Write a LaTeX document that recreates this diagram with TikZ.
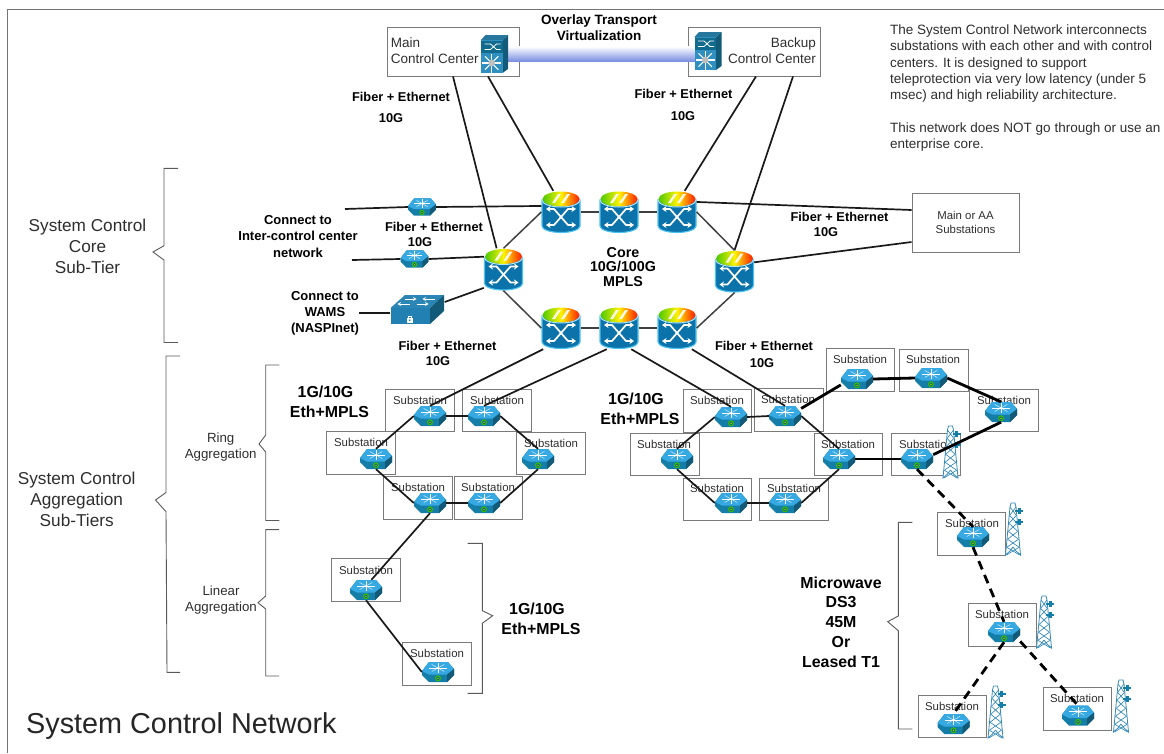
\documentclass[tikz,border=0pt]{standalone}
\usepackage{fontspec}
\setmainfont{Liberation Sans}
\usetikzlibrary{positioning, arrows.meta, calc}
\definecolor{NetBlue}{HTML}{0B72AA}
\definecolor{NetCyan}{HTML}{36A8E2}
\definecolor{NetGlow}{HTML}{4CC2F0}
\definecolor{NetDark}{HTML}{147EA8}
\definecolor{NetSide}{HTML}{125A78}
\definecolor{TowerBlue}{HTML}{3389B8}
\definecolor{BandBlue}{HTML}{7C90E2}
\definecolor{TextGrey}{HTML}{2E2E2E}
\definecolor{BoxGrey}{HTML}{7A7A7A}
\tikzset{
	routernode/.style={shape=rectangle, minimum width=32pt, minimum height=20pt, inner sep=0pt},
	corenode/.style={shape=rectangle, minimum width=39pt, minimum height=42pt, inner sep=0pt},
	nexusnode/.style={shape=rectangle, minimum width=27pt, minimum height=38pt, inner sep=0pt},
	wamsnode/.style={shape=rectangle, minimum width=54pt, minimum height=30pt, inner sep=0pt},
	towernode/.style={shape=rectangle, minimum width=15pt, minimum height=52pt, inner sep=0pt},
	subbox/.style={shape=rectangle, draw=BoxGrey, line width=0.9pt, minimum width=68.5pt, minimum height=42.5pt, inner sep=0pt},
	subtext/.style={text=TextGrey, inner sep=0pt, font=\fontsize{11.4}{13}\selectfont},
	plainbox/.style={shape=rectangle, draw=BoxGrey, line width=0.9pt, inner sep=0pt},
	boldtext/.style={text=black, inner sep=0pt, align=center, font=\bfseries\fontsize{12.8}{15}\selectfont},
	speedtext/.style={text=black, inner sep=0pt, align=center, font=\bfseries\fontsize{15.9}{19.7}\selectfont},
	tiertext/.style={text=TextGrey, inner sep=0pt, align=center, font=\fontsize{17.2}{21}\selectfont},
	aggtext/.style={text=TextGrey, inner sep=0pt, align=center, font=\fontsize{13.3}{16}\selectfont},
	centertext/.style={text=TextGrey, inner sep=0pt, font=\fontsize{13.5}{16}\selectfont},
	netlink/.style={draw=black!90, line width=1.7pt},
	corelink/.style={draw=black!75, line width=1.5pt},
	heavylink/.style={draw=black, line width=2.8pt},
	radiolink/.style={draw=black, line width=2.8pt, dash pattern=on 9pt off 6pt},
	bracket/.style={draw=black!65, line width=0.9pt},
	pics/routericon/.style={code={
		\fill[NetDark] (-16,-1) -- (-9,-10) -- (10,-10) -- (16,-3) -- (16,3) -- (9,10) -- (-9,10) -- (-16,3) -- cycle;
		\fill[NetCyan] (-16,-1) -- (-9,-10) -- (10,-10) -- (16,-3) -- (9,2.5) -- (-9,2.5) -- (-16,-1) -- cycle;
		\fill[NetSide] (9,2.5) -- (16,-3) -- (16,3) -- (9,10) -- cycle;
		\foreach \ang in {0,45,...,315}
			\draw[white, line width=0.4pt] (0,-4) -- +(\ang:9 and 5);
		\fill[white] (0,-4) circle[radius=1pt];
		\draw[green!70!black!80!yellow, fill=NetSide, line width=1.1pt] (0,6.3) circle[radius=2.4pt];
		\fill[yellow!75!green] (0,6.3) circle[radius=0.8pt];
	}},
	pics/coreicon/.style={code={
		\path[fill=NetBlue, draw=NetGlow, line width=1.1pt] (-19,-12) -- (-19,14) arc[start angle=180, end angle=360, x radius=19pt, y radius=6.5pt] -- (19,-12) -- cycle;
		\shade[left color=green!70!black!70!yellow, right color=red!80!orange, middle color=yellow!90!orange] (0,-13) ellipse[x radius=18.5pt, y radius=7.5pt];
		\fill[white, opacity=0.9] (-9,-9) -- (-3,-18) -- (0,-18) -- (-6,-9) -- cycle;
		\fill[white, opacity=0.9] (0,-9) -- (6,-18) -- (9,-18) -- (3,-9) -- cycle;
		\draw[NetGlow!45!white, line width=1pt] (-19,-12) arc[start angle=180, end angle=360, x radius=19pt, y radius=7pt];
		\draw[white, line width=1.7pt, {Stealth[length=4.5pt, width=6pt]}-{Stealth[length=4.5pt, width=6pt]}] (-15,-3) -- (-7,-3) -- (7,13) -- (15,13);
		\draw[white, line width=1.7pt, {Stealth[length=4.5pt, width=6pt]}-{Stealth[length=4.5pt, width=6pt]}] (-15,13) -- (-7,13) -- (7,-3) -- (15,-3);
	}},
	pics/nexusicon/.style={code={
		\fill[NetSide] (8,-14) -- (13.5,-19) -- (13.5,15) -- (8,19) -- cycle;
		\fill[NetCyan!70!black] (-13.5,-14) -- (-9,-19) -- (13.5,-19) -- (8,-14) -- cycle;
		\fill[NetCyan!85!black] (-13.5,-14) rectangle (8,19);
		\fill[NetDark!85!black] (-13.5,-13) rectangle (8,-1);
		\draw[white, line width=0.8pt] (-10,-10) -- (-4,-10) -- (2,-4.5) -- (6,-4.5) (-10,-4.5) -- (-4,-4.5) -- (2,-10) -- (6,-10);
		\foreach \ang in {0,45,...,315}
			\draw[white, line width=1.1pt] (-2.8,9) -- +(\ang:9.5);
		\fill[black!25] (-2.8,9) circle[radius=3.3pt];
	}},
	pics/wamsicon/.style={code={
		\fill[NetCyan!80!black] (-27,-1.5) -- (-12.5,-14.5) -- (26.5,-14.5) -- (12.5,-1.5) -- cycle;
		\fill[NetBlue!90!white] (-27,-1.5) rectangle (12.5,14.5);
		\fill[NetSide] (12.5,-1.5) -- (26.5,-14.5) -- (26.5,1.5) -- (12.5,14.5) -- cycle;
		\draw[white, line width=1pt, -{Stealth[length=3.5pt, width=4pt]}] (-13,-10.5) -- (-1,-10.5);
		\draw[white, line width=1pt, -{Stealth[length=3.5pt, width=4pt]}] (17,-10.5) -- (5,-10.5);
		\draw[white, line width=1pt, -{Stealth[length=3.5pt, width=4pt]}] (-8,-5.5) -- (-20,-5.5);
		\draw[white, line width=1pt, -{Stealth[length=3.5pt, width=4pt]}] (-1,-5.5) -- (11,-5.5);
		\fill[white] (-10.5,8.5) rectangle (-5,13);
		\draw[white, line width=0.7pt] (-9.5,8.5) -- (-9.5,6.5) -- (-6,6.5) -- (-6,8.5);
		\fill[NetBlue] (-7.75,10.7) circle[radius=0.9pt];
	}},
	pics/towericon/.style={code={
		\path[fill=white] (-3,-26) -- (3,-26) -- (7.5,26) -- (-7.5,26) -- cycle;
		\draw[TowerBlue, line width=0.8pt] (-2,-26) -- (2,-26) -- (3,-22) -- (7.5,26) -- (3,22) -- (0,18);
		\draw[TowerBlue, line width=0.8pt] (-2,-26) -- (-3,-22) -- (-7.5,26) -- (-3,22) -- (0,18);
		\foreach \yy/\ww in {-22/3,-14/3.7,-6/4.4,2/5.1,10/5.8,18/6.5}
			\draw[TowerBlue, line width=0.65pt] (-\ww,\yy) -- (\ww,\yy+8) (\ww,\yy) -- (-\ww,\yy+8);
		\foreach \yy in {-18,-7} {
			\draw[NetDark, line width=1.2pt] (2,\yy) -- (10,\yy);
			\fill[NetDark] (4.5,\yy-3) -- (7.5,\yy-3) -- (7.5,\yy+3) -- (4.5,\yy+3) -- cycle;
		}
	}},
}
\begin{document}
\begin{tikzpicture}[x=1pt, y=-1pt]
	\useasboundingbox (0,0) rectangle (1164,753);
	\draw[draw=black!55, line width=0.9pt] (7.3,753) -- (7.3,9.3) -- (1164,9.3);

	\node at (453,51.5) [plainbox, minimum width=132pt, minimum height=49pt] (mainCenter) {};
	\node at (754,51.5) [plainbox, minimum width=132pt, minimum height=49pt] (backupCenter) {};
	\node at (494.5,54) [nexusnode] (nexusMain) {};
	\node at (708,51) [nexusnode] (nexusBackup) {};
	\shade[top color=white, bottom color=BandBlue] ([yshift=7.5pt]nexusMain.center) rectangle ([yshift=-10pt]nexusBackup.center);
	\pic at (nexusMain) {nexusicon};
	\pic at (nexusBackup) {nexusicon};
	\node at (390.7,51) [centertext, anchor=west, align=left] (mainText) {Main\\Control Center};
	\node at (816,51) [centertext, anchor=east, align=right] (backupText) {Backup\\Control Center};
	\node at (599,28) [boldtext, font=\bfseries\fontsize{13.5}{16}\selectfont] (overlayText) {Overlay Transport\\Virtualization};

	\node at (890,24.5) [anchor=north west, text=TextGrey, inner sep=0pt, align=left, font=\fontsize{13.5}{16.3}\selectfont] (noteText) {The System Control Network interconnects\\substations with each other and with control\\centers. It is designed to support\\teleprotection via very low latency (under 5\\msec) and high reliability architecture.\\[16.3pt]This network does NOT go through or use an\\enterprise core.};

	\foreach \nm/\xx/\yy in {coreA/561/212, coreB/619/212, coreC/677/212, coreL/503.5/269.5, coreR/734.5/271.5, coreD/561/328, coreE/619/328, coreF/677/328} {
		\node at (\xx,\yy) [corenode] (\nm) {};
		\pic at (\nm) {coreicon};
	}
	\node at (965.5,222.5) [plainbox, minimum width=107pt, minimum height=59pt] (mainAA) {};
	\node at (mainAA) [subtext, align=center, font=\fontsize{11.4}{14}\selectfont] (mainAAText) {Main or AA\\Substations};
	\foreach \nm/\xx/\yy in {interA/422/207, interB/414.5/259} {
		\node at (\xx,\yy) [routernode, minimum width=28pt, minimum height=18pt] (\nm) {};
		\pic at (\nm) [scale=0.87] {routericon};
	}
	\node at (417.5,309.5) [wamsnode] (wamsSwitch) {};
	\pic at (wamsSwitch) {wamsicon};
	\coordinate (stubA) at (345,209);
	\coordinate (stubB) at (352,260);
	\coordinate (stubC) at (359,313);

	\foreach \nm/\bx/\by/\tx/\ty/\rx/\ry in {
		la/420/410.5/420/400/430/416, lb/497/410.5/497/400/484/416,
		lc/361/452.7/361/442/376/459, ld/551/453.3/551/443/538/459,
		le/418/498/418/487/430/503, lf/488.3/498/488/487/484/503,
		lg/366/580/366/570/366/590, lh/436.7/663.7/437/653/438/672,
		ra/717.5/411/717/400/731/417, rb/789/409.7/788/399/785/416,
		rc/665/454.3/664/444/677/459, rd/848.5/454.5/848/444/839/459,
		re/717.5/499.3/717/488/731/503, rf/793.8/499.5/794/488/785/503,
		rg/860.5/370/860/359/857/379, rh/933.8/370.3/933/359/931/378,
		ri/1004/410.5/1004/400/1001/412, rj/926/454.5/926/444/917/459,
		ma/971.5/534/972/523/973/537, mb/1002.5/624.7/1002/614/1004/632,
		mc/952.5/716.5/952/706/953.5/724, md/1077.5/708.7/1077/698/1078/715.6} {
		\node at (\bx,\by) [subbox] (\nm box) {};
		\node at (\tx,\ty) [subtext] (\nm text) {Substation};
		\node at (\rx,\ry) [routernode] (\nm) {};
		\pic at (\nm) {routericon};
	}
	\foreach \nm/\xx/\yy in {towerJ/950.5/452, towerA/1013/529, towerB/1044/622, towerC/995.5/712, towerD/1121/706} {
		\node at (\xx,\yy) [towernode] (\nm) {};
		\pic at (\nm) {towericon};
	}

	\draw[netlink] (mainCenter.south -| 453,76) -- (coreL.108);
	\draw[netlink] (mainCenter.south -| 488,76) -- (coreA.110);
	\draw[netlink] (backupCenter.south -| 756,76) -- (coreC.70);
	\draw[netlink] (backupCenter.south -| 793,76) -- (coreR.north);
	\draw[corelink] (coreA) -- (coreB);
	\draw[corelink] (coreB) -- (coreC);
	\draw[corelink] (coreD) -- (coreE);
	\draw[corelink] (coreE) -- (coreF);
	\draw[corelink] (coreA.west) -- (coreL.north);
	\draw[corelink] (coreL.south) -- (coreD.west);
	\draw[corelink] (coreC.east) -- (coreR.north);
	\draw[corelink] (coreR.south) -- (coreF.east);
	\draw[netlink] (coreC.27) -- (mainAA.west |- 912,210);
	\draw[netlink] (coreR.25) -- (mainAA.west |- 912,242);
	\draw[netlink] (stubA) -- (interA.west);
	\draw[netlink] (interA.east) -- (coreA.163);
	\draw[netlink] (stubB) -- (interB.west);
	\draw[netlink] (interB.east) -- (coreL.147);
	\draw[netlink] (stubC) -- (wamsSwitch.west |- 391,313);
	\draw[netlink] (wamsSwitch.east |- 445,302) -- (coreL.223);
	\draw[netlink] (coreD.230) -- (la.north);
	\draw[netlink] (coreE.240) -- (lb.north);
	\draw[netlink] (coreE.300) -- (ra.north);
	\draw[netlink] (coreF.305) -- (rb.north);
	\foreach \from/\to in {la.east/lb.west, la.west/lc.north, lb.east/ld.north, lc.south/le.west, lf.east/ld.south, le.east/lf.west, le.south/lg.62, lg.south/lh.west,
		ra.east/rb.west, ra.west/rc.north, rb.east/rd.north, rc.south/re.west, rf.east/rd.south, re.east/rf.west}
		\draw[netlink] (\from) -- (\to);
	\foreach \from/\to in {rb.25/rg.200, rg.east/rh.west, rh.east/ri.north, ri.south/rj.15, rd.east/rj.west}
		\draw[heavylink] (\from) -- (\to);
	\foreach \from/\to in {rj.south/ma.north, ma.south/mb.north, mb.south/mc.north, mb.330/md.north}
		\draw[radiolink] (\from) -- (\to);

	\draw[bracket] (178,168.4) -- (164,168.4) -- (164,245.7) -- (153,252) -- (164,260) -- (164,342.5) -- (178,342.5);
	\draw[bracket] (180,356) -- (166,356) -- (166,492.5) -- (155.5,500) -- (166,511.6) -- (167,672.4) -- (180,672.4);
	\draw[bracket] (279.3,365) -- (265.7,365) -- (265.7,435) -- (259,444) -- (265.7,452) -- (265.7,520.5) -- (279.3,520.5);
	\draw[bracket] (279,529.6) -- (265.7,529.6) -- (265.7,596) -- (258,602.7) -- (265.7,609) -- (265.7,676) -- (279,676);
	\draw[bracket] (467.7,543.3) -- (482.3,543.3) -- (482.3,610.7) -- (492.7,615.7) -- (482.3,623.3) -- (482.3,693.3) -- (467.7,693.3);
	\draw[bracket] (912.3,522.3) -- (898.3,522.3) -- (898.3,616) -- (887.7,621.7) -- (898.3,630.7) -- (898.3,729) -- (912.3,729);

	\node at (87.5,246.4) [tiertext] (coreTier) {System Control\\Core\\Sub-Tier};
	\node at (76.7,499) [tiertext] (aggTier) {System Control\\Aggregation\\Sub-Tiers};
	\node at (220.7,447) [aggtext] (ringTier) {Ring\\Aggregation};
	\node at (221,600) [aggtext] (linearTier) {Linear\\Aggregation};
	\node at (26,726) [anchor=west, text=black!85, inner sep=0pt, font=\fontsize{28.8}{32}\selectfont] (pageTitle) {System Control Network};

	\node at (401,96.5) [boldtext] (fiberA) {Fiber + Ethernet};
	\node at (391,118) [boldtext] (speedA) {10G};
	\node at (683.5,94) [boldtext] (fiberB) {Fiber + Ethernet};
	\node at (683,116) [boldtext] (speedB) {10G};
	\node at (434,227) [boldtext] (fiberC) {Fiber + Ethernet};
	\node at (420,242.5) [boldtext] (speedC) {10G};
	\node at (447.5,346) [boldtext] (fiberD) {Fiber + Ethernet};
	\node at (438,361) [boldtext] (speedD) {10G};
	\node at (764,346) [boldtext] (fiberE) {Fiber + Ethernet};
	\node at (762,363) [boldtext] (speedE) {10G};
	\node at (839.5,217) [boldtext] (fiberF) {Fiber + Ethernet};
	\node at (826,232) [boldtext] (speedF) {10G};
	\node at (298,236.5) [boldtext, font=\bfseries\fontsize{13}{16.5}\selectfont] (interText) {Connect to\\Inter-control center\\network};
	\node at (325,313) [boldtext, font=\bfseries\fontsize{13}{16}\selectfont] (wamsText) {Connect to\\WAMS\\(NASPInet)};
	\node at (623,267) [boldtext, font=\bfseries\fontsize{14.3}{14.9}\selectfont] (coreText) {Core\\10G/100G\\MPLS};
	\node at (329.5,402) [speedtext] (ringSpeedL) {1G/10G\hspace*{8pt}\\Eth+MPLS};
	\node at (640,409) [speedtext] (ringSpeedR) {1G/10G\hspace*{8pt}\\Eth+MPLS};
	\node at (541,619) [speedtext] (linearSpeed) {1G/10G\hspace*{8pt}\\Eth+MPLS};
	\node at (841,622) [speedtext] (microText) {Microwave\\DS3\\45M\\Or\\Leased T1};
\end{tikzpicture}
\end{document}
